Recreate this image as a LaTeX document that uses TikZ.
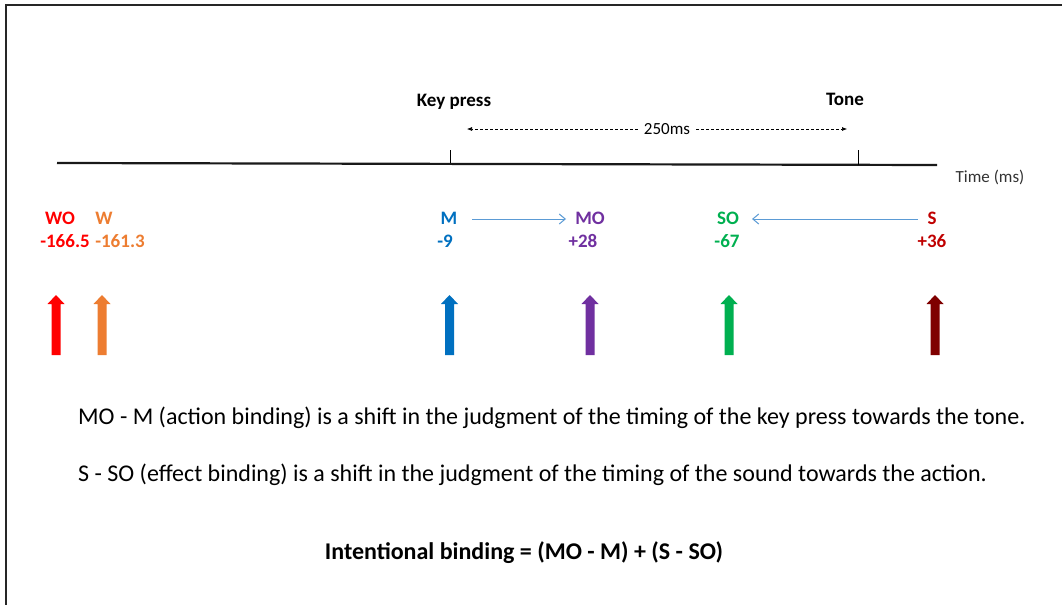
\documentclass[tikz,border=0pt]{standalone}
\usepackage{fontspec}
\setmainfont{Carlito}
\usetikzlibrary{arrows.meta}
\definecolor{cWO}{HTML}{FF0000}
\definecolor{cW}{HTML}{ED7D31}
\definecolor{cM}{HTML}{0070C0}
\definecolor{cMO}{HTML}{7030A0}
\definecolor{cSO}{HTML}{00B050}
\definecolor{cS}{HTML}{C00000}
\definecolor{cSarr}{HTML}{7F0000}
\definecolor{cLink}{HTML}{5B9BD5}
\tikzset{
  lbl/.style={font=\fontsize{19}{22}\selectfont\bfseries, inner sep=0pt, anchor=base},
  small/.style={font=\fontsize{17}{20}\selectfont, inner sep=0pt, anchor=base},
  body/.style={font=\fontsize{24}{28}\selectfont, inner sep=0pt, anchor=base west},
  link/.style={cLink, line width=1pt, -{Straight Barb[length=6pt,width=10pt]}},
}
% upward block arrow centred at x, tip at y=295, foot at y=355
\newcommand{\blockarrow}[2]{%
  \fill[#2] (#1-4.5,355) -- (#1-4.5,304) -- (#1-8.5,304) -- (#1,295)
    -- (#1+8.5,304) -- (#1+4.5,304) -- (#1+4.5,355) -- cycle;}
\begin{document}
\begin{tikzpicture}[x=1pt,y=-1pt]
\useasboundingbox (0,0) rectangle (1062,605);
\fill[white] (0,0) rectangle (1062,605);
% frame
\draw[line width=2pt, black!85] (6,5) -- (1062,5);
\draw[line width=1.5pt, black!85] (6,4) -- (6,605);

% time axis
\coordinate (axL) at (57,163);
\coordinate (axR) at (937,165);
\draw[line width=2.2pt, black!90] (axL) -- (axR);
\coordinate (kp) at (450,150);
\coordinate (kpb) at (450,163);
\coordinate (tn) at (858,150);
\coordinate (tnb) at (858,165);
\draw[line width=0.8pt] (kp) -- (kpb);
\draw[line width=0.8pt] (tn) -- (tnb);
\node[lbl] (keypress) at (454,106) {Key press};
\node[lbl] (tone) at (845,105) {Tone};
\node[small, anchor=center, inner xsep=6pt] (ms) at (667,129) {250ms};
\coordinate (dl) at (467,129);
\coordinate (dr) at (847,129);
\draw[dashed, dash pattern=on 3pt off 2pt, line width=0.6pt, -{Latex[length=5pt,width=4pt]}] (ms.west) -- (dl);
\draw[dashed, dash pattern=on 3pt off 2pt, line width=0.6pt, -{Latex[length=5pt,width=4pt]}] (ms.east) -- (dr);
\node[small, text=black!80] (time) at (990,182) {Time (ms)};

% event labels
\node[lbl, text=cWO] (WO) at (60,224) {WO};
\node[lbl, text=cW] (W) at (104,224) {W};
\node[lbl, text=cWO] (WOv) at (65,247) {-166.5};
\node[lbl, text=cW] (Wv) at (120,247) {-161.3};
\node[lbl, text=cM] (M) at (449,224) {M};
\node[lbl, text=cM] (Mv) at (445,247) {-9};
\node[lbl, text=cMO] (MO) at (590,224) {MO};
\node[lbl, text=cMO] (MOv) at (583,247) {+28};
\node[lbl, text=cSO] (SO) at (728,224) {SO};
\node[lbl, text=cSO] (SOv) at (727,247) {-67};
\node[lbl, text=cS] (S) at (932,224) {S};
\node[lbl, text=cS] (Sv) at (932,247) {+36};

\coordinate (m1) at (472,219);
\coordinate (m2) at (566,219);
\coordinate (s1) at (918,219);
\coordinate (s2) at (752,219);
\draw[link] (m1) -- (m2);
\draw[link] (s1) -- (s2);

% perceived-time markers
\blockarrow{56}{cWO}
\blockarrow{102}{cW}
\blockarrow{449.5}{cM}
\blockarrow{590}{cMO}
\blockarrow{729}{cSO}
\blockarrow{935}{cSarr}

% explanation
\node[body] (l1) at (78,424) {MO - M (action binding) is a shift in the judgment of the timing of the key press towards the tone.};
\node[body] (l2) at (78,481) {S - SO (effect binding) is a shift in the judgment of the timing of the sound towards the action.};
\node[body, anchor=base, font=\fontsize{24}{28}\selectfont\bfseries] (ib) at (524,559) {Intentional binding = (MO - M) + (S - SO)};
\end{tikzpicture}
\end{document}
